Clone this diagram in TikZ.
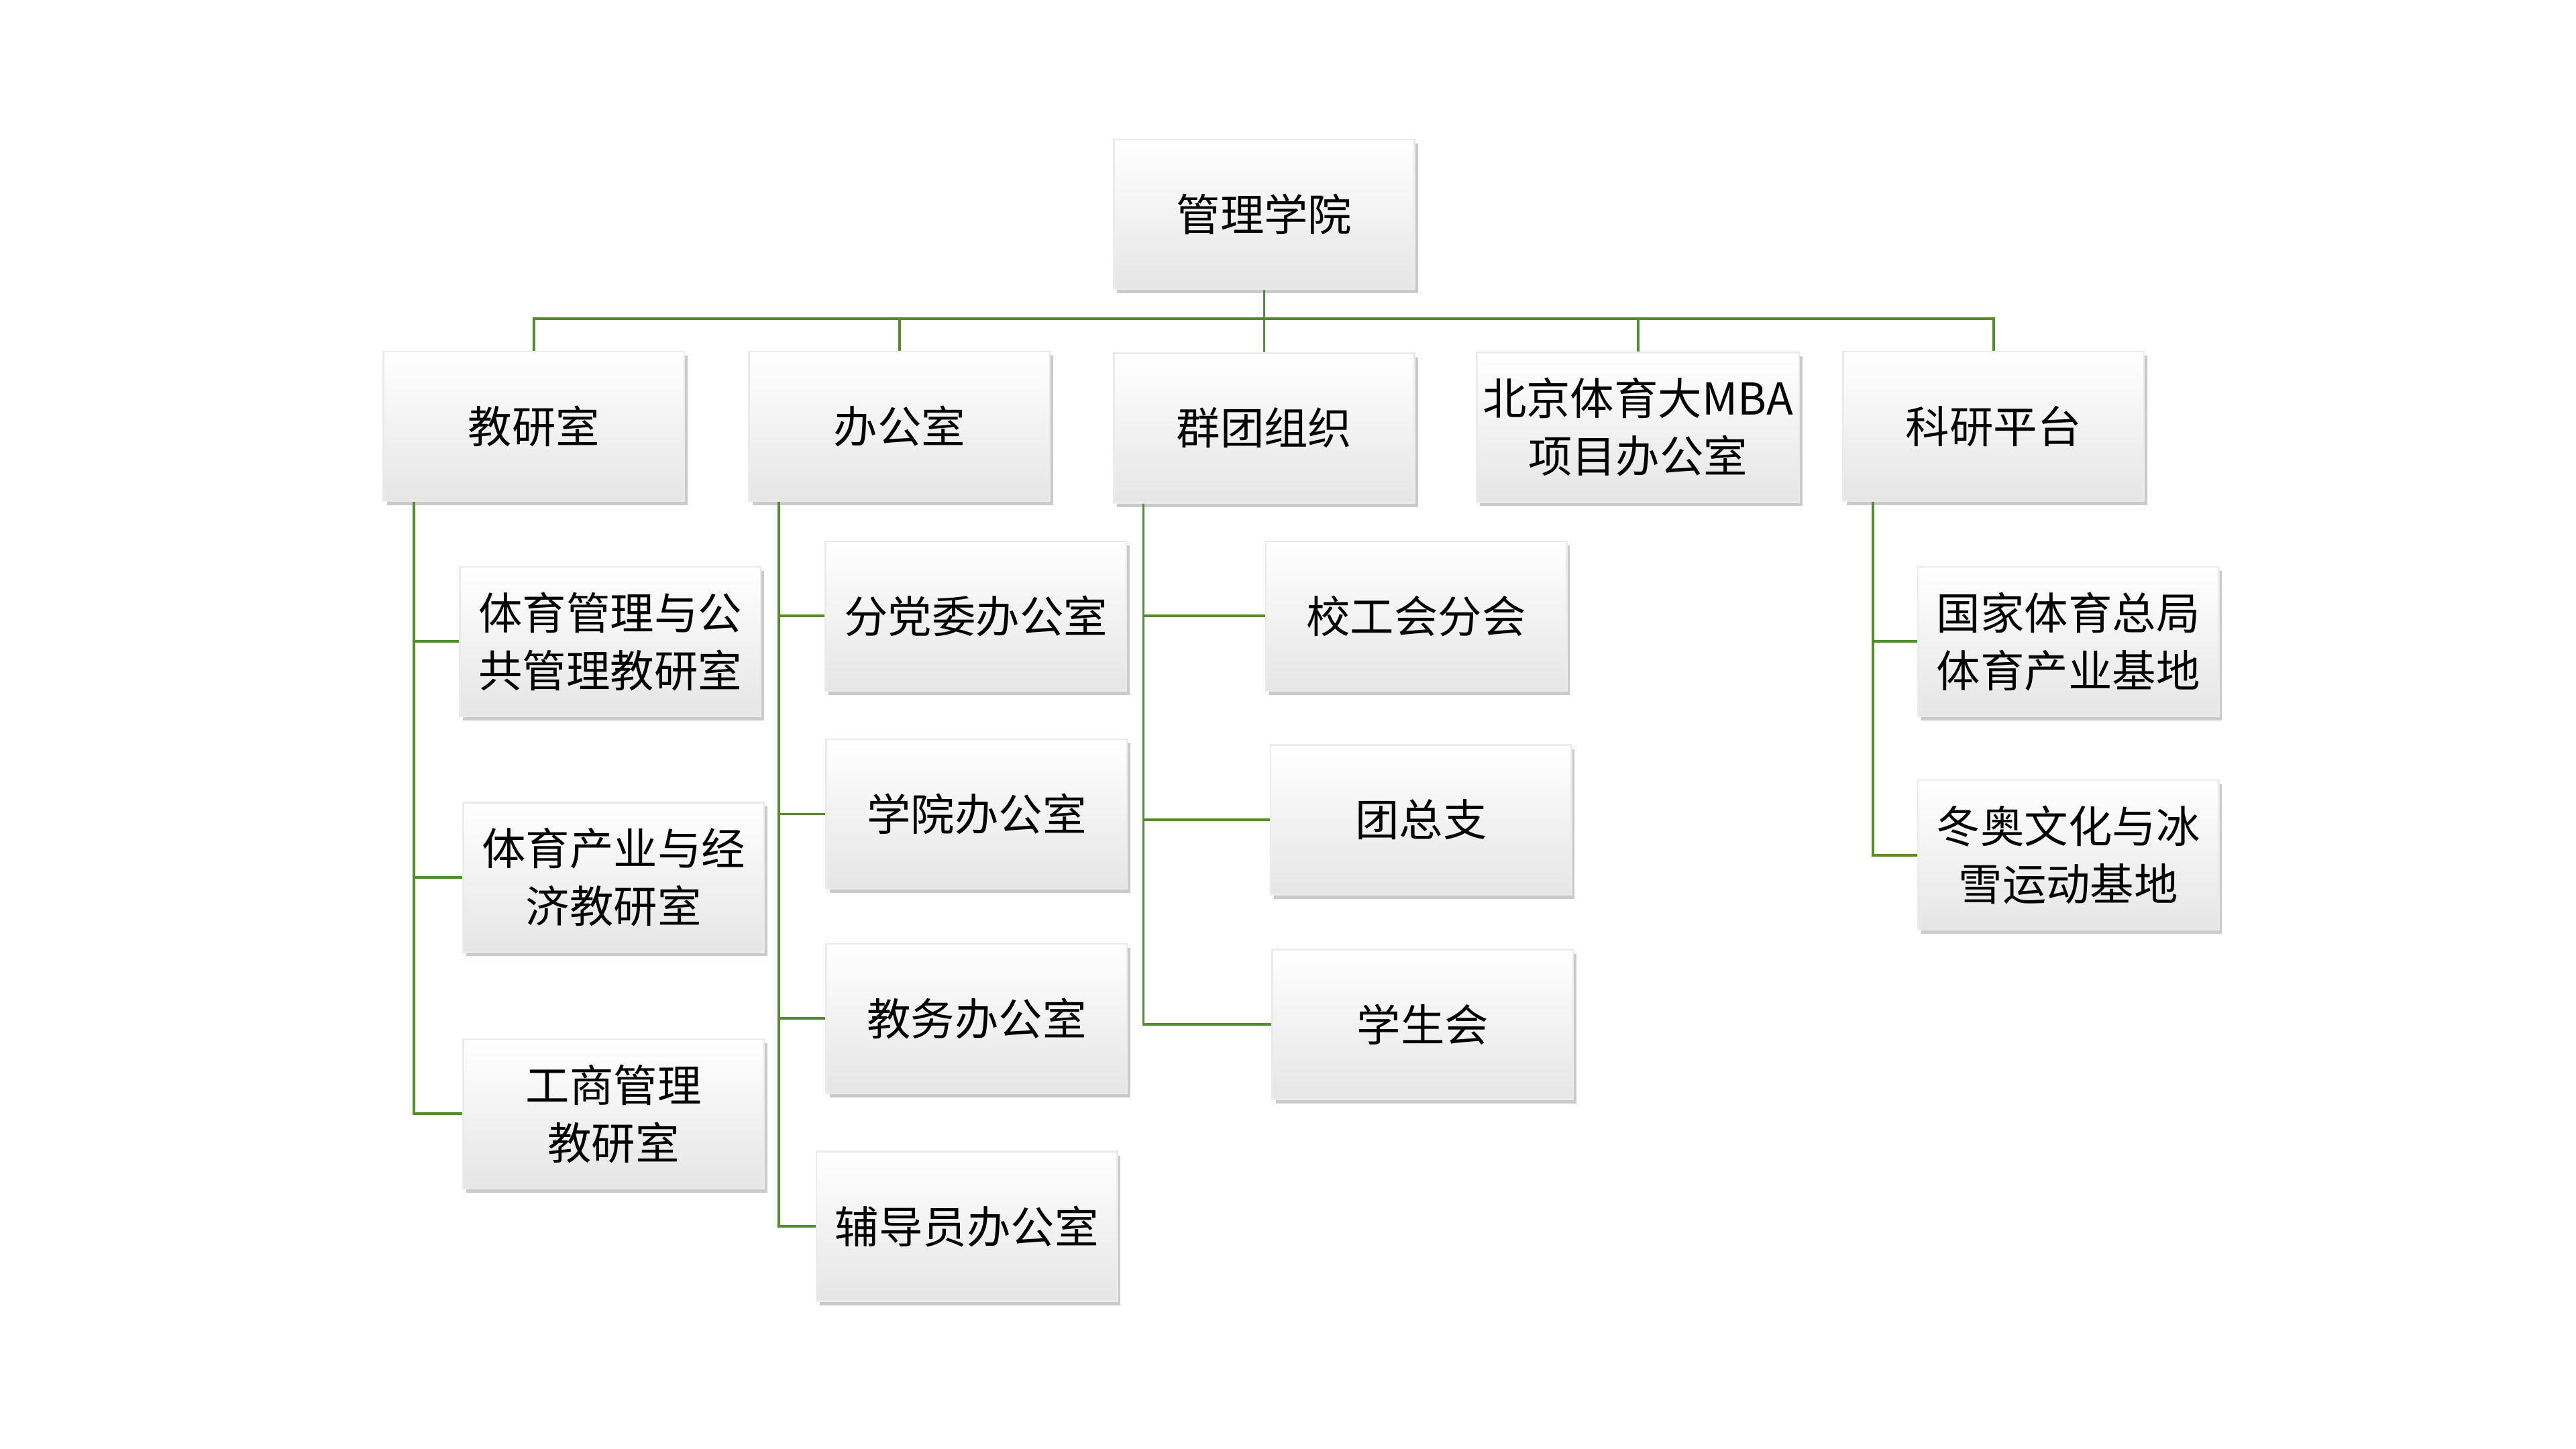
\documentclass[tikz,border=0pt]{standalone}
\usepackage{fontspec}
\newfontfamily\cjk{Noto Sans CJK SC}
\usetikzlibrary{shadows}
\definecolor{lk}{RGB}{84,140,46}
\begin{document}
\begin{tikzpicture}[x=0.01cm,y=-0.01cm,
  bx/.style={minimum width=1.83cm,minimum height=0.91cm,inner sep=1pt,align=center,
    top color=white,bottom color=black!10,draw=black!8,line width=0.3pt,
    drop shadow={shadow xshift=0.02cm,shadow yshift=-0.025cm,opacity=0.35,fill=black!60},
    font=\cjk\fontsize{7.6}{10}\selectfont},
  ln/.style={draw=lk,line width=0.45pt}]
\useasboundingbox (0,0) rectangle (1568,882);
\node[bx] (root) at (769.5,130.5) {管理学院};
\node[bx] (a) at (325,259.5) {教研室};
\node[bx] (b) at (547.5,259.5) {办公室};
\node[bx] (c) at (769.5,260.5) {群团组织};
\node[bx] (d) at (997,260) {北京体育大MBA\\项目办公室};
\node[bx] (e) at (1213.5,259.5) {科研平台};
\node[bx] (a1) at (371.5,390.5) {体育管理与公\\共管理教研室};
\node[bx] (a2) at (373.5,534) {体育产业与经\\济教研室};
\node[bx] (a3) at (373.5,678) {工商管理\\教研室};
\node[bx] (b1) at (594,375) {分党委办公室};
\node[bx] (b2) at (594.5,495.5) {学院办公室};
\node[bx] (b3) at (594.5,620) {教务办公室};
\node[bx] (b4) at (588.5,746.5) {辅导员办公室};
\node[bx] (c1) at (862,375) {校工会分会};
\node[bx] (c2) at (865,499) {团总支};
\node[bx] (c3) at (866,623.5) {学生会};
\node[bx] (e1) at (1259,390.5) {国家体育总局\\体育产业基地};
\node[bx] (e2) at (1259,520.5) {冬奥文化与冰\\雪运动基地};
\coordinate (h) at (0,194);
\foreach \n in {a,b,c,d,e}{\draw[ln] (root.south) |- (h -| \n.north) -- (\n.north);}
\foreach \p/\x/\cs in {a/252/{a1,a2,a3},b/474/{b1,b2,b3,b4},c/696/{c1,c2,c3},e/1140/{e1,e2}}{
  \foreach \k in \cs {\draw[ln] (\p.south -| \x,0) |- (\k.west);}}
\end{tikzpicture}
\end{document}
